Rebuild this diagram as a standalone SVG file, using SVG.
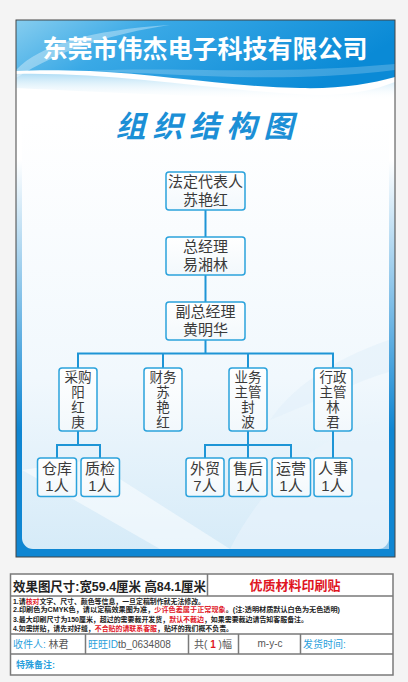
<svg xmlns="http://www.w3.org/2000/svg" width="408" height="682" viewBox="0 0 408 682">
<defs>
<linearGradient id="hdr" x1="0" y1="0" x2="1" y2="0.3">
<stop offset="0" stop-color="#86cdef"/>
<stop offset="0.35" stop-color="#3aa9e6"/>
<stop offset="1" stop-color="#0a8ad6"/>
</linearGradient>
<linearGradient id="glow" x1="0" y1="0" x2="0" y2="1">
<stop offset="0" stop-color="#9fd6f3"/>
<stop offset="1" stop-color="#ffffff" stop-opacity="0"/>
</linearGradient>
<linearGradient id="frame" gradientUnits="userSpaceOnUse" x1="0" y1="160" x2="0" y2="430">
<stop offset="0" stop-color="#ffffff"/>
<stop offset="1" stop-color="#0f86d2"/>
</linearGradient>
<linearGradient id="inner" gradientUnits="userSpaceOnUse" x1="0" y1="120" x2="0" y2="550">
<stop offset="0" stop-color="#ffffff"/>
<stop offset="0.6" stop-color="#f1f8fd"/>
<stop offset="1" stop-color="#d6ebf8"/>
</linearGradient>
<linearGradient id="nodefill" x1="0" y1="0" x2="0" y2="1">
<stop offset="0" stop-color="#ffffff"/>
<stop offset="1" stop-color="#f2f8fc"/>
</linearGradient>
</defs>
<style>
.node rect{fill:url(#nodefill);stroke:#2ba2dc;stroke-width:1.5}
.node text{font-family:"Liberation Sans","Noto Sans CJK SC",sans-serif;font-size:15px;fill:#3a3a3a;text-anchor:middle}
.node text.v{font-size:13.5px}
#connectors path{fill:none;stroke:#1e95d6;stroke-width:2}
.cell{fill:none;stroke:#7a7a7a;stroke-width:1.5}
.tx{font-family:"Liberation Sans","Noto Sans CJK SC",sans-serif}
.red{fill:#e0151f}
.blue{fill:#2a9fdc}
</style>
<rect x="0" y="0" width="408" height="682" fill="#f4f4f4"/>
<rect x="16" y="20" width="379" height="537" fill="url(#frame)"/>
<rect x="22" y="40" width="367" height="509" rx="11" fill="url(#inner)"/>
<path d="M22,470 L160,549 L230,549 L90,460 Z" fill="#ffffff" opacity="0.5"/>
<path d="M389,420 C330,430 270,470 230,549 L389,549 Z" fill="#e9f4fb" opacity="0.6"/>
<path d="M389,340 C330,360 290,390 270,420 C320,400 360,380 389,372 Z" fill="#e2f0fa" opacity="0.6"/>
<path d="M16,74 C120,72 220,92 320,95 C350,95 375,90 395,82 L395,100 C360,100 250,100 16,88 Z" fill="url(#glow)" opacity="0.8"/>
<path d="M16,20 H395 V77 C370,84 340,89 300,88 C230,87 160,74 90,71 C60,70 35,70 16,71 Z" fill="url(#hdr)"/>
<path d="M16,70 C40,45 90,30 170,25 C110,34 60,50 16,78 Z" fill="#ffffff" opacity="0.35"/>
<path d="M90,71 C170,66 260,76 395,64 L395,70 C280,84 180,74 90,71 Z" fill="#ffffff" opacity="0.2"/>
<rect x="16" y="20" width="379" height="537" fill="none" stroke="#444" stroke-width="1"/>
<text x="205" y="58" class="tx" font-size="25" font-weight="bold" fill="#ffffff" text-anchor="middle">东莞市伟杰电子科技有限公司</text>
<text x="208" y="136.5" class="tx" font-size="30" font-weight="bold" fill="#1b8fd6" text-anchor="middle" letter-spacing="7" font-style="italic">组织结构图</text>
<g id="connectors">
<path d="M205.5,210 V237"/>
<path d="M205.5,275 V302"/>
<path d="M205.5,340 V353.5"/>
<path d="M78,368 V353.5 H333 V368"/>
<path d="M163,353.5 V368"/>
<path d="M248,353.5 V368"/>
<path d="M78,431 V445 M57,458 V445 H100 V458"/>
<path d="M248,431 V458 M205,458 V445 H291 V458"/>
<path d="M333,431 V458"/>
</g>
<g id="n-faren" class="node"><rect x="166" y="172" width="79" height="38" rx="3"/><text><tspan x="205.5" y="186.5">法定代表人</tspan><tspan x="205.5" y="204.5">苏艳红</tspan></text></g>
<g id="n-zongjingli" class="node"><rect x="166" y="237" width="79" height="38" rx="3"/><text><tspan x="205.5" y="251.5">总经理</tspan><tspan x="205.5" y="269.5">易湘林</tspan></text></g>
<g id="n-fuzong" class="node"><rect x="166" y="302" width="79" height="38" rx="3"/><text><tspan x="205.5" y="316.5">副总经理</tspan><tspan x="205.5" y="334.5">黄明华</tspan></text></g>
<g id="n-caigou" class="node"><rect x="59" y="368" width="38" height="63" rx="3"/><text class="v"><tspan x="78" y="381.5">采购</tspan><tspan x="78" y="396.5">阳</tspan><tspan x="78" y="411.5">红</tspan><tspan x="78" y="426.5">庚</tspan></text></g>
<g id="n-caiwu" class="node"><rect x="144" y="368" width="38" height="63" rx="3"/><text class="v"><tspan x="163" y="381.5">财务</tspan><tspan x="163" y="396.5">苏</tspan><tspan x="163" y="411.5">艳</tspan><tspan x="163" y="426.5">红</tspan></text></g>
<g id="n-yewu" class="node"><rect x="229" y="368" width="38" height="63" rx="3"/><text class="v"><tspan x="248" y="381.5">业务</tspan><tspan x="248" y="396.5">主管</tspan><tspan x="248" y="411.5">封</tspan><tspan x="248" y="426.5">波</tspan></text></g>
<g id="n-xingzheng" class="node"><rect x="314" y="368" width="38" height="63" rx="3"/><text class="v"><tspan x="333" y="381.5">行政</tspan><tspan x="333" y="396.5">主管</tspan><tspan x="333" y="411.5">林</tspan><tspan x="333" y="426.5">君</tspan></text></g>
<g id="n-cangku" class="node"><rect x="37.5" y="458" width="39" height="38.5" rx="3"/><text><tspan x="57" y="473.5">仓库</tspan><tspan x="57" y="491">1人</tspan></text></g>
<g id="n-zhijian" class="node"><rect x="81" y="458" width="38.5" height="38.5" rx="3"/><text><tspan x="100" y="473.5">质检</tspan><tspan x="100" y="491">1人</tspan></text></g>
<g id="n-waimao" class="node"><rect x="186" y="458" width="38" height="38.5" rx="3"/><text><tspan x="205" y="473.5">外贸</tspan><tspan x="205" y="491">7人</tspan></text></g>
<g id="n-shouhou" class="node"><rect x="229" y="458" width="38" height="38.5" rx="3"/><text><tspan x="248" y="473.5">售后</tspan><tspan x="248" y="491">1人</tspan></text></g>
<g id="n-yunying" class="node"><rect x="272" y="458" width="38.5" height="38.5" rx="3"/><text><tspan x="291" y="473.5">运营</tspan><tspan x="291" y="491">1人</tspan></text></g>
<g id="n-renshi" class="node"><rect x="314" y="458" width="38" height="38.5" rx="3"/><text><tspan x="333" y="473.5">人事</tspan><tspan x="333" y="491">1人</tspan></text></g>
<rect x="10.5" y="574" width="382.5" height="101" fill="#ffffff" stroke="#7a7a7a" stroke-width="1.5"/>
<path class="cell" d="M10.5,596 H393 M10.5,634 H393 M10.5,654 H393 M207.5,574 V596 M85.5,634 V654 M188.5,634 V654 M238.5,634 V654 M300.5,634 V654"/>
<text x="13" y="590.5" class="tx" font-size="13" font-weight="bold" fill="#222" textLength="193" lengthAdjust="spacingAndGlyphs">效果图尺寸:宽59.4厘米 高84.1厘米</text>
<text x="295" y="590" class="tx red" font-size="13" font-weight="bold" text-anchor="middle">优质材料印刷贴</text>
<text class="tx" font-size="7" font-weight="bold" fill="#222"><tspan x="13" y="603.5" textLength="192" lengthAdjust="spacingAndGlyphs">1.请<tspan class="red">核对</tspan>文字、尺寸、颜色等信息，一旦定稿制作就无法修改。</tspan><tspan x="13" y="612" textLength="327" lengthAdjust="spacingAndGlyphs">2.印刷色为CMYK色，请以定稿效果图为准，<tspan class="red">少许色差属于正常现象</tspan>。(注:透明材质默认白色为无色透明)</tspan><tspan x="13" y="622.3" textLength="295" lengthAdjust="spacingAndGlyphs">3.最大印刷尺寸为150厘米，超过的需要裁开发货，<tspan class="red">默认不裁边</tspan>，如果需要裁边请告知客服备注。</tspan><tspan x="13" y="631" textLength="220" lengthAdjust="spacingAndGlyphs">4.如需拼贴，请先对好缝，<tspan class="red">不合贴的请联系客服</tspan>，贴坏的我们概不负责。</tspan></text>
<g class="tx" font-size="10" fill="#555">
<text x="13" y="648"><tspan class="blue">收件人:</tspan>  林君</text>
<text x="88" y="648"><tspan class="blue">旺旺ID</tspan>tb_0634808</text>
<text x="213" y="648" text-anchor="middle">共(<tspan class="red" font-weight="bold"> 1 </tspan>)幅</text>
<text x="270" y="647" text-anchor="middle">m-y-c</text>
<text x="303" y="648" class="blue">发货时间:</text>
</g>
<text x="16" y="668" class="tx blue" font-size="9" font-weight="bold">特殊备注:</text>
</svg>
